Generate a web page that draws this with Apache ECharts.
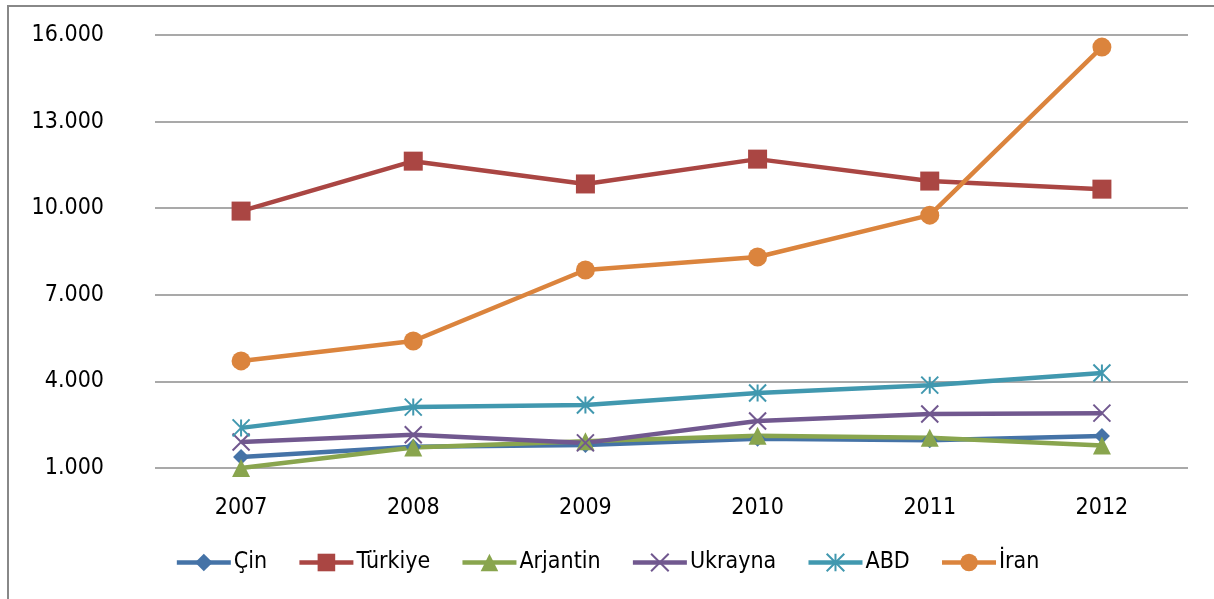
<!DOCTYPE html>
<html>
<head>
<meta charset="utf-8">
<script src="https://cdn.jsdelivr.net/npm/echarts@6/dist/echarts.min.js"></script>
<style>
  html, body { margin: 0; padding: 0; background: #fff; }
  #chart { width: 1214px; height: 599px; }
</style>
</head>
<body>
<div id="chart"></div>
<script>
// data
var years = ['2007', '2008', '2009', '2010', '2011', '2012'];
var cin = [1380, 1740, 1800, 2010, 1960, 2110];
var turkiye = [9900, 11630, 10840, 11700, 10940, 10660];
var arjantin = [1000, 1710, 1930, 2120, 2050, 1780];
var ukrayna = [1900, 2150, 1870, 2630, 2870, 2900];
var abd = [2390, 3110, 3180, 3600, 3870, 4290];
var iran = [4710, 5400, 7860, 8310, 9760, 15580];

var fontFam = '"DejaVu Sans Condensed", "Liberation Sans Narrow", "Noto Sans", sans-serif';

function fmt(v) {
  // 16000 -> 16.000
  var s = String(Math.round(v));
  return s.replace(/\B(?=(\d{3})+(?!\d))/g, '.');
}

var xMark = 'path://M0,0L10,10M10,0L0,10';
var starMark = 'path://M5,0L5,10M0,0L10,10M10,0L0,10';

function mkSeries(name, data, color, symbol, size, strokeOnly) {
  var s = {
    name: name,
    type: 'line',
    data: data,
    symbol: symbol,
    symbolSize: size,
    showAllSymbol: true,
    color: color,
    lineStyle: { color: color, width: 4.5 },
    itemStyle: { color: color, opacity: 1 },
    z: 3
  };
  if (strokeOnly) {
    s.itemStyle = { color: 'rgba(0,0,0,0)', borderColor: color, borderWidth: 2, opacity: 1 };
  }
  return s;
}

var chart = echarts.init(document.getElementById('chart'));

var option = {
  backgroundColor: '#fff',
  animation: false,
  textStyle: { fontFamily: fontFam },
  graphic: [{
    type: 'rect',
    shape: { x: 8, y: 6, width: 1300, height: 700 },
    style: { fill: 'none', stroke: '#888', lineWidth: 2 },
    silent: true,
    z: -1
  }],
  grid: { left: 155, right: 26, top: 35, bottom: 131 },
  legend: {
    bottom: 20,
    left: 'center',
    itemWidth: 54,
    itemHeight: 22,
    itemGap: 30,
    lineStyle: { width: 4.5 },
    textStyle: { fontSize: 23, color: '#000', fontFamily: fontFam, padding: [0, 0, 0, -2] },
    data: ['Çin', 'Türkiye', 'Arjantin', 'Ukrayna', 'ABD', 'İran']
  },
  xAxis: {
    type: 'category',
    data: years,
    boundaryGap: true,
    axisLine: { show: false },
    axisTick: { show: false },
    axisLabel: { fontSize: 23, color: '#000', margin: 29 }
  },
  yAxis: {
    type: 'value',
    min: 1000,
    max: 16000,
    interval: 3000,
    axisLine: { show: false },
    axisTick: { show: false },
    axisLabel: { fontSize: 23, color: '#000', margin: 51, formatter: fmt },
    splitLine: { lineStyle: { color: '#8c8c8c', width: 1.5 } }
  },
  series: [
    mkSeries('Çin', cin, '#4573A7', 'diamond', 16),
    mkSeries('Türkiye', turkiye, '#AA4643', 'rect', 19),
    mkSeries('Arjantin', arjantin, '#89A54E', 'triangle', 18),
    mkSeries('Ukrayna', ukrayna, '#71588F', xMark, 17, true),
    mkSeries('ABD', abd, '#4198AF', starMark, 17, true),
    mkSeries('İran', iran, '#DB843D', 'circle', 19)
  ]
};

chart.setOption(option);
</script>
</body>
</html>
